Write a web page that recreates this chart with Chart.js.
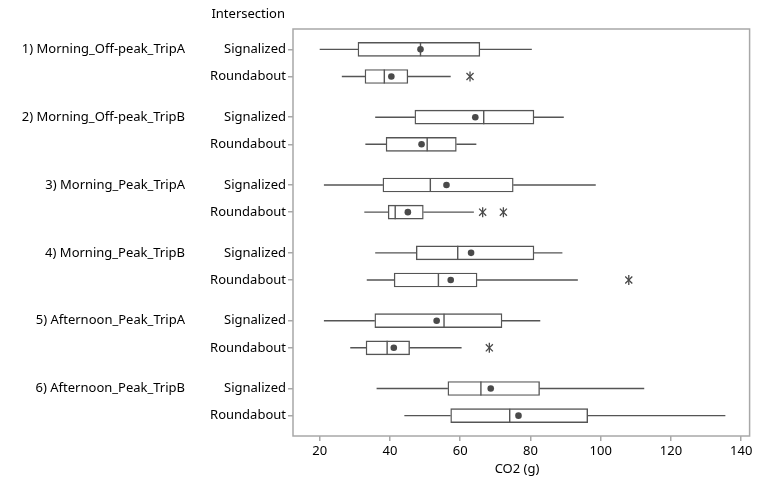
<!DOCTYPE html>
<html>
<head>
<meta charset="utf-8">
<script src="https://cdn.jsdelivr.net/npm/chart.js@4"></script>
<style>
  html, body { margin: 0; padding: 0; background: #fff; }
  #wrap { width: 758px; height: 477px; }
</style>
</head>
<body>
<div id="wrap"><canvas id="chart"></canvas></div>
<script>
const groups = [
  '1) Morning_Off-peak_TripA',
  '2) Morning_Off-peak_TripB',
  '3) Morning_Peak_TripA',
  '4) Morning_Peak_TripB',
  '5) Afternoon_Peak_TripA',
  '6) Afternoon_Peak_TripB'
];
const intersections = ['Signalized', 'Roundabout'];

// one value per row: group 1 Signalized, group 1 Roundabout, group 2 Signalized, ...
const whiskerLow  = [20.0, 26.3, 35.8, 33.0, 21.2, 32.7, 35.8, 33.4, 21.2, 28.7, 36.2, 44.1];
const q1          = [30.9, 32.9, 47.1, 38.9, 38.0, 39.5, 47.5, 41.2, 35.7, 33.2, 56.5, 57.3];
const median      = [48.7, 38.4, 66.7, 50.6, 51.5, 41.5, 59.3, 53.8, 55.4, 39.2, 65.9, 74.1];
const q3          = [65.6, 45.1, 81.0, 58.9, 75.1, 49.5, 81.0, 64.8, 71.9, 45.6, 82.6, 96.3];
const whiskerHigh = [80.4, 57.3, 89.5, 64.6, 98.6, 63.9, 89.1, 93.5, 82.8, 60.4, 112.4, 135.5];
const mean        = [48.7, 40.4, 64.3, 49.0, 56.1, 45.1, 63.1, 57.3, 53.3, 41.1, 68.7, 76.6];
const outliers    = [[], [62.8], [], [], [], [66.4, 72.3], [], [108.0], [], [68.3], [], []];

const xTicks = [20, 40, 60, 80, 100, 120, 140];

const FONT = "'Noto Sans', sans-serif";
const LINE = '#555';
const FRAME = '#a8a8a8';

// row position on the y scale: rows of a group sit 1 apart, groups 2.5 apart
function rowPos(i) {
  return Math.floor(i / 2) * 2.5 + (i % 2);
}
const rows = median.map((m, i) => i);
const yTicks = rows.map(rowPos);

const boxData = rows.map(i => ({ x: [q1[i], q3[i]], y: rowPos(i) }));
const whiskerData = [];
rows.forEach(i => {
  const y = rowPos(i);
  whiskerData.push({ x: whiskerLow[i], y: y }, { x: q1[i], y: y }, { x: null, y: null });
  whiskerData.push({ x: q3[i], y: y }, { x: whiskerHigh[i], y: y }, { x: null, y: null });
});
const medianData = rows.map(i => ({ x: median[i], y: rowPos(i) }));
const meanData = rows.map(i => ({ x: mean[i], y: rowPos(i) }));
const outlierData = [];
rows.forEach(i => outliers[i].forEach(v => outlierData.push({ x: v, y: rowPos(i) })));

const labelsPlugin = {
  id: 'labels',
  beforeDatasetsDraw(chart) {
    const a = chart.chartArea;
    const ctx = chart.ctx;
    ctx.save();
    ctx.strokeStyle = FRAME;
    ctx.lineWidth = 1.5;
    ctx.strokeRect(a.left, a.top, a.right - a.left, a.bottom - a.top);
    ctx.restore();
  },
  afterDraw(chart) {
    const ctx = chart.ctx;
    const yScale = chart.scales.y;
    ctx.save();
    ctx.fillStyle = '#000';
    ctx.font = '13px ' + FONT;
    ctx.textAlign = 'right';
    ctx.textBaseline = 'middle';
    groups.forEach((g, k) => {
      ctx.fillText(g, 185, yScale.getPixelForValue(rowPos(k * 2)));
    });
    ctx.fillText('Intersection', 285, 14);
    ctx.textAlign = 'center';
    ctx.fillText('CO2 (g)', 517, 469);
    ctx.restore();
  }
};

new Chart(document.getElementById('chart'), {
  data: {
    datasets: [
      {
        type: 'line',
        data: whiskerData,
        borderColor: LINE,
        borderWidth: 1.4,
        pointRadius: 0,
        spanGaps: false,
        order: 5
      },
      {
        type: 'bar',
        indexAxis: 'y',
        data: boxData,
        backgroundColor: '#fff',
        borderColor: LINE,
        borderWidth: 1.4,
        borderSkipped: false,
        barThickness: 14,
        order: 4
      },
      {
        type: 'scatter',
        data: medianData,
        pointStyle: 'line',
        rotation: 90,
        pointRadius: 7,
        borderColor: LINE,
        borderWidth: 1.4,
        order: 3
      },
      {
        type: 'scatter',
        data: meanData,
        pointStyle: 'circle',
        pointRadius: 3.3,
        backgroundColor: '#4a4a4a',
        borderColor: '#4a4a4a',
        borderWidth: 0,
        order: 2
      },
      {
        type: 'scatter',
        data: outlierData,
        pointStyle: 'crossRot',
        pointRadius: 5,
        borderColor: '#4a4a4a',
        borderWidth: 1.3,
        order: 1
      },
      {
        type: 'scatter',
        data: outlierData,
        pointStyle: 'line',
        rotation: 90,
        pointRadius: 5,
        borderColor: '#4a4a4a',
        borderWidth: 1.3,
        order: 1
      }
    ]
  },
  options: {
    responsive: true,
    maintainAspectRatio: false,
    animation: false,
    layout: { padding: { top: 29, right: 1, left: 0, bottom: 0 } },
    plugins: {
      legend: { display: false },
      tooltip: { enabled: false }
    },
    scales: {
      x: {
        type: 'linear',
        offset: false,
        min: 12.4,
        max: 142.4,
        afterBuildTicks: s => { s.ticks = xTicks.map(v => ({ value: v })); },
        afterFit: s => { s.height = 41; },
        border: { display: false },
        grid: { offset: false, drawOnChartArea: false, tickLength: 5, color: FRAME, lineWidth: 1.5 },
        ticks: { color: '#000', font: { family: FONT, size: 13 }, padding: 2 }
      },
      y: {
        type: 'linear',
        offset: false,
        reverse: true,
        min: -0.75,
        max: 14.25,
        afterBuildTicks: s => { s.ticks = yTicks.map(v => ({ value: v })); },
        afterFit: s => { s.width = 293; },
        border: { display: false },
        grid: { offset: false, drawOnChartArea: false, tickLength: 5, color: FRAME, lineWidth: 1.5 },
        ticks: {
          color: '#000',
          font: { family: FONT, size: 13 },
          padding: 2,
          callback: (v, idx) => intersections[idx % 2]
        }
      }
    }
  },
  plugins: [labelsPlugin]
});
</script>
</body>
</html>
